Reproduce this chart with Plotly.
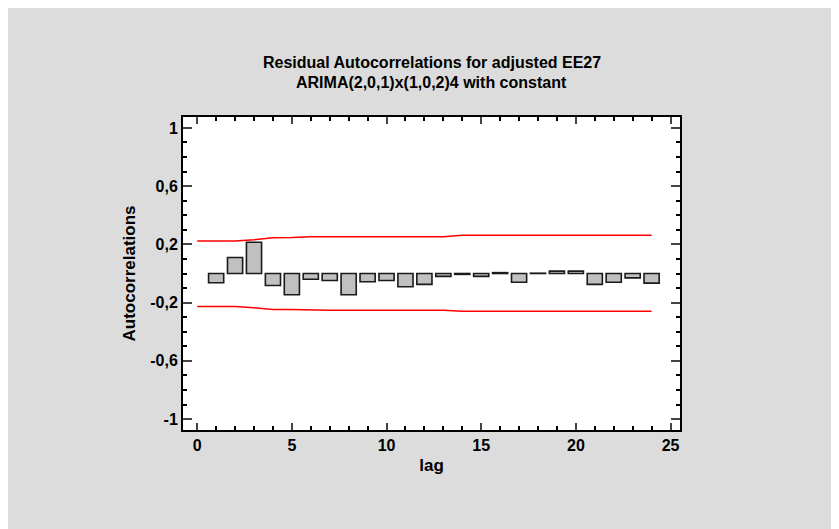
import plotly.graph_objects as go

# Residual autocorrelations by lag
lags = list(range(1, 25))
acf = [-0.064, 0.11, 0.215, -0.082, -0.146, -0.039, -0.048, -0.146, -0.057, -0.048,
       -0.091, -0.075, -0.02, -0.006, -0.02, 0.006, -0.06, 0.002, 0.016, 0.016,
       -0.075, -0.06, -0.03, -0.066]

# 95% probability limits
limit_lags = list(range(0, 25))
upper = [0.224, 0.224, 0.224, 0.232, 0.245, 0.247, 0.253, 0.253, 0.253, 0.253,
         0.253, 0.253, 0.253, 0.253, 0.262, 0.262, 0.262, 0.262, 0.262, 0.262,
         0.262, 0.262, 0.262, 0.262, 0.262]
lower = [-0.226, -0.226, -0.226, -0.235, -0.247, -0.248, -0.253, -0.253, -0.253, -0.253,
         -0.253, -0.253, -0.253, -0.253, -0.26, -0.26, -0.26, -0.26, -0.26, -0.26,
         -0.26, -0.26, -0.26, -0.26, -0.26]

y_ticks = [-1, -0.6, -0.2, 0.2, 0.6, 1]
y_ticktext = ["-1", "-0,6", "-0,2", "0,2", "0,6", "1"]

title_lines = ["Residual Autocorrelations for adjusted EE27",
               "ARIMA(2,0,1)x(1,0,2)4 with constant"]

FAMILY = "Liberation Sans, Arial, sans-serif"
W, H = 831, 521

fig = go.Figure()
fig.add_trace(go.Bar(x=lags, y=acf, width=0.8,
                     marker=dict(color="#c0c0c0", line=dict(color="#1a1a1a", width=1.6))))
fig.add_trace(go.Scatter(x=limit_lags, y=upper, mode="lines",
                         line=dict(color="red", width=1.5)))
fig.add_trace(go.Scatter(x=limit_lags, y=lower, mode="lines",
                         line=dict(color="red", width=1.5)))

# two title lines as annotations so their spacing can be set
for i, line in enumerate(title_lines):
    fig.add_annotation(text="<b>" + line + "</b>", xref="paper", x=0.5,
                       yref="paper", y=1 + (55 - i * 21) / 313, yanchor="middle",
                       showarrow=False, font=dict(family=FAMILY, size=16, color="black"))

fig.update_layout(
    width=W, height=H,
    paper_bgcolor="#dcdcdc", plot_bgcolor="white",
    margin=dict(l=175, r=159, t=109, b=99),
    showlegend=False,
    font=dict(family=FAMILY, size=14, color="black"),
    xaxis=dict(range=[-0.75, 25.5], tick0=0, dtick=5, ticks="inside", ticklen=7, tickwidth=2,
               showline=True, linecolor="black", linewidth=2, mirror="allticks",
               showgrid=False, zeroline=False,
               tickprefix="<b>", ticksuffix="</b>",
               tickfont=dict(family=FAMILY, size=16, color="black"),
               title=dict(text="<b>lag</b>", font=dict(family=FAMILY, size=17, color="black"),
                          standoff=6),
               minor=dict(dtick=1, tick0=0, ticks="inside", ticklen=4, tickwidth=1.5,
                          tickcolor="black", showgrid=False)),
    yaxis=dict(range=[-1.075, 1.075], tickmode="array", tickvals=y_ticks,
               ticktext=["<b>" + t + "</b>" for t in y_ticktext],
               ticks="inside", ticklen=9, tickwidth=2,
               showline=True, linecolor="black", linewidth=2, mirror="allticks",
               showgrid=False, zeroline=False,
               tickfont=dict(family=FAMILY, size=16, color="black"),
               title=dict(text="<b>Autocorrelations</b>",
                          font=dict(family=FAMILY, size=17, color="black"), standoff=10),
               minor=dict(dtick=0.1, tick0=0, ticks="inside", ticklen=4, tickwidth=1.5,
                          tickcolor="black", showgrid=False)),
)

fig.write_html("out.html")
